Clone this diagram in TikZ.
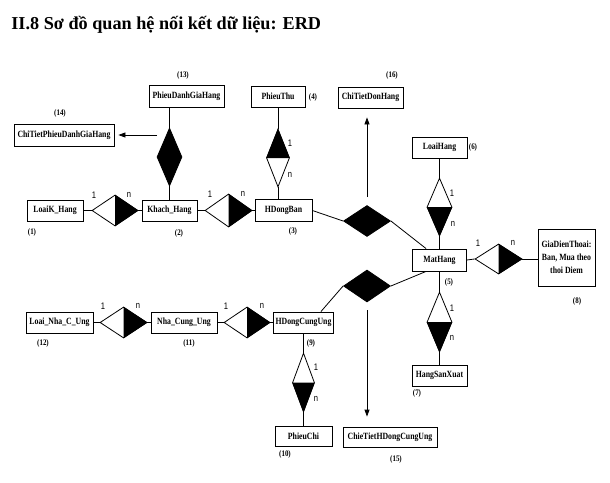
\documentclass[tikz,border=0pt]{standalone}
\usepackage{fontspec}
\setmainfont{Liberation Serif}
\newfontfamily\boxfont{Liberation Serif}[FakeStretch=0.82]
\newfontfamily\cardfont{Liberation Sans}[FakeStretch=0.8]
\usetikzlibrary{shapes.geometric,arrows.meta}

\begin{document}
\begin{tikzpicture}[x=1pt, y=-1pt, line width=0.8pt,
    entity/.style={draw, rectangle, inner sep=1pt, minimum height=21pt,
      font=\boxfont\bfseries\fontsize{9.5}{13}\selectfont},
    rel/.style={draw, diamond, inner sep=0pt, fill=white},
    num/.style={inner sep=0pt, font=\boxfont\bfseries\fontsize{8.5}{10}\selectfont},
    card/.style={inner sep=0pt, font=\cardfont\fontsize{9.5}{10}\selectfont},
    toentity/.style={-{Triangle[length=7pt,width=5pt]}}]
    \useasboundingbox (0,0) rectangle (610,482);

    % Title
    \node[anchor=base west, inner sep=0pt, font=\bfseries\fontsize{18.2}{20}\selectfont] (title) at (11,29) {II.8 Sơ đồ quan hệ nối kết dữ liệu: ERD};

    % Entities
    \node[entity, minimum width=56pt] (loaik) at (55,210.5) {LoaiK\_Hang};
    \node[entity, minimum width=55pt] (khach) at (169.5,210.5) {Khach\_Hang};
    \node[entity, minimum width=57pt, minimum height=22pt] (hdban) at (283.5,210.5) {HDongBan};
    \node[entity, minimum width=54pt] (pthu) at (278,96.5) {PhieuThu};
    \node[entity, minimum width=54pt, minimum height=22pt] (mathang) at (439.5,260) {MatHang};
    \node[entity, minimum width=55pt] (loaihang) at (439.5,147.5) {LoaiHang};
    \node[entity, minimum width=55pt] (hsx) at (439.5,375.5) {HangSanXuat};
    \node[entity, minimum width=57pt, minimum height=57pt, align=center] (giadt) at (566.5,257.5) {GiaDienThoai:\\Ban, Mua theo\\thoi Diem};
    \node[entity, minimum width=60pt] (hdcu) at (303.5,322.5) {HDongCungUng};
    \node[entity, minimum width=57pt, minimum height=20pt] (pchi) at (303.5,436) {PhieuChi};
    \node[entity, minimum width=66pt] (ncu) at (184,322.5) {Nha\_Cung\_Ung};
    \node[entity, minimum width=67pt] (lncu) at (59.5,322.5) {Loai\_Nha\_C\_Ung};
    \node[entity, minimum width=75pt, minimum height=22pt] (pdgh) at (186.5,96) {PhieuDanhGiaHang};
    \node[entity, minimum width=100pt, minimum height=22pt] (ctpdgh) at (64,135) {ChiTietPhieuDanhGiaHang};
    \node[entity, minimum width=94pt, minimum height=20pt] (ctcu) at (390,437) {ChieTietHDongCungUng};
    \node[entity, minimum width=65pt] (ctdh) at (370.5,97.5) {ChiTietDonHang};

    % Numbers
    \node[num] (n1) at (32,232) {(1)};
    \node[num] (n2) at (179,233) {(2)};
    \node[num] (n3) at (293,231) {(3)};
    \node[num] (n4) at (313,97) {(4)};
    \node[num] (n5) at (449,282) {(5)};
    \node[num] (n6) at (473,147) {(6)};
    \node[num] (n7) at (417,393) {(7)};
    \node[num] (n8) at (577,301) {(8)};
    \node[num] (n9) at (311,343) {(9)};
    \node[num] (n10) at (285,454) {(10)};
    \node[num] (n11) at (189,343) {(11)};
    \node[num] (n12) at (43,343) {(12)};
    \node[num] (n13) at (183,75) {(13)};
    \node[num] (n14) at (60,113) {(14)};
    \node[num] (n15) at (396,459) {(15)};
    \node[num] (n16) at (392,75) {(16)};

    % Relationships
    \node[rel, minimum width=46pt, minimum height=31pt] (r1) at (115,210.5) {};
    \fill (r1.north) -- (r1.east) -- (r1.south) -- cycle;
    \node[rel, minimum width=47pt, minimum height=33pt] (r2) at (228.5,210.5) {};
    \fill (r2.north) -- (r2.east) -- (r2.south) -- cycle;
    \node[rel, fill=black, minimum width=25pt, minimum height=58pt] (r13) at (169.5,157) {};
    \node[rel, minimum width=23pt, minimum height=58pt] (r4) at (278,158) {};
    \fill (r4.north) -- (r4.east) -- (r4.west) -- cycle;
    \node[rel, fill=black, minimum width=47pt, minimum height=31pt] (r16) at (367,221) {};
    \node[rel, minimum width=25pt, minimum height=58pt] (r6) at (439.5,207) {};
    \fill (r6.south) -- (r6.east) -- (r6.west) -- cycle;
    \node[rel, minimum width=47pt, minimum height=30pt] (r8) at (498.5,259) {};
    \fill (r8.north) -- (r8.east) -- (r8.south) -- cycle;
    \node[rel, minimum width=25pt, minimum height=60pt] (r7) at (439.5,322) {};
    \fill (r7.south) -- (r7.east) -- (r7.west) -- cycle;
    \node[rel, fill=black, minimum width=47pt, minimum height=32pt] (r15) at (367,286) {};
    \node[rel, minimum width=47pt, minimum height=31pt] (r12) at (123.5,322.5) {};
    \fill (r12.north) -- (r12.east) -- (r12.south) -- cycle;
    \node[rel, minimum width=46pt, minimum height=31pt] (r11) at (247,322.5) {};
    \fill (r11.north) -- (r11.east) -- (r11.south) -- cycle;
    \node[rel, minimum width=22pt, minimum height=59pt] (r10) at (303.5,382.5) {};
    \fill (r10.south) -- (r10.east) -- (r10.west) -- cycle;

    % Cardinalities
    \node[card] (c1a) at (94,195) {1};
    \node[card] (c1b) at (129,195) {n};
    \node[card] (c2a) at (210,194) {1};
    \node[card] (c2b) at (243,194) {n};
    \node[card] (c4a) at (290,143) {1};
    \node[card] (c4b) at (290,175) {n};
    \node[card] (c6a) at (452,193) {1};
    \node[card] (c6b) at (453,224) {n};
    \node[card] (c8a) at (478,243) {1};
    \node[card] (c8b) at (513,243) {n};
    \node[card] (c7a) at (452,308) {1};
    \node[card] (c7b) at (452,338) {n};
    \node[card] (c12a) at (103,306) {1};
    \node[card] (c12b) at (138,306) {n};
    \node[card] (c11a) at (226,306) {1};
    \node[card] (c11b) at (262,306) {n};
    \node[card] (c10a) at (316,367) {1};
    \node[card] (c10b) at (316,399) {n};

    % Connectors
    \draw (loaik.east) -- (r1.west);
    \draw (r1.east) -- (khach.west);
    \draw (khach.east) -- (r2.west);
    \draw (r2.east) -- (hdban.west);
    \draw (r13.north |- pdgh.south) -- (r13.north);
    \draw (r13.south) -- (khach.north);
    \coordinate (a14) at (157,135);
    \draw[toentity, shorten >=4pt] (a14) -- (ctpdgh.east);
    \draw (pthu.south) -- (r4.north);
    \draw (r4.south) -- (r4.south |- hdban.north);
    \draw (hdban.east) -- (r16.west);
    \draw (r16.east) -- ([xshift=14pt]mathang.north west);
    \coordinate (a16) at (367,197);
    \draw[toentity, shorten >=9pt] (a16) -- (a16 |- ctdh.south);
    \draw (loaihang.south) -- (r6.north);
    \draw (r6.south) -- (mathang.north);
    \draw (mathang.east) -- (r8.west);
    \draw (r8.east) -- (r8.east -| giadt.west);
    \draw (mathang.south) -- (r7.north);
    \draw (r7.south) -- (hsx.north);
    \draw ([xshift=14pt]mathang.south west) -- (r15.east);
    \draw (r15.west) -- ([xshift=-13pt]hdcu.north east);
    \coordinate (a15) at (367,310);
    \draw[toentity, shorten >=10pt] (a15) -- (a15 |- ctcu.north);
    \draw (lncu.east) -- (r12.west);
    \draw (r12.east) -- (ncu.west);
    \draw (ncu.east) -- (r11.west);
    \draw (r11.east) -- (hdcu.west);
    \draw (hdcu.south) -- (r10.north);
    \draw (r10.south) -- (pchi.north);
\end{tikzpicture}
\end{document}
